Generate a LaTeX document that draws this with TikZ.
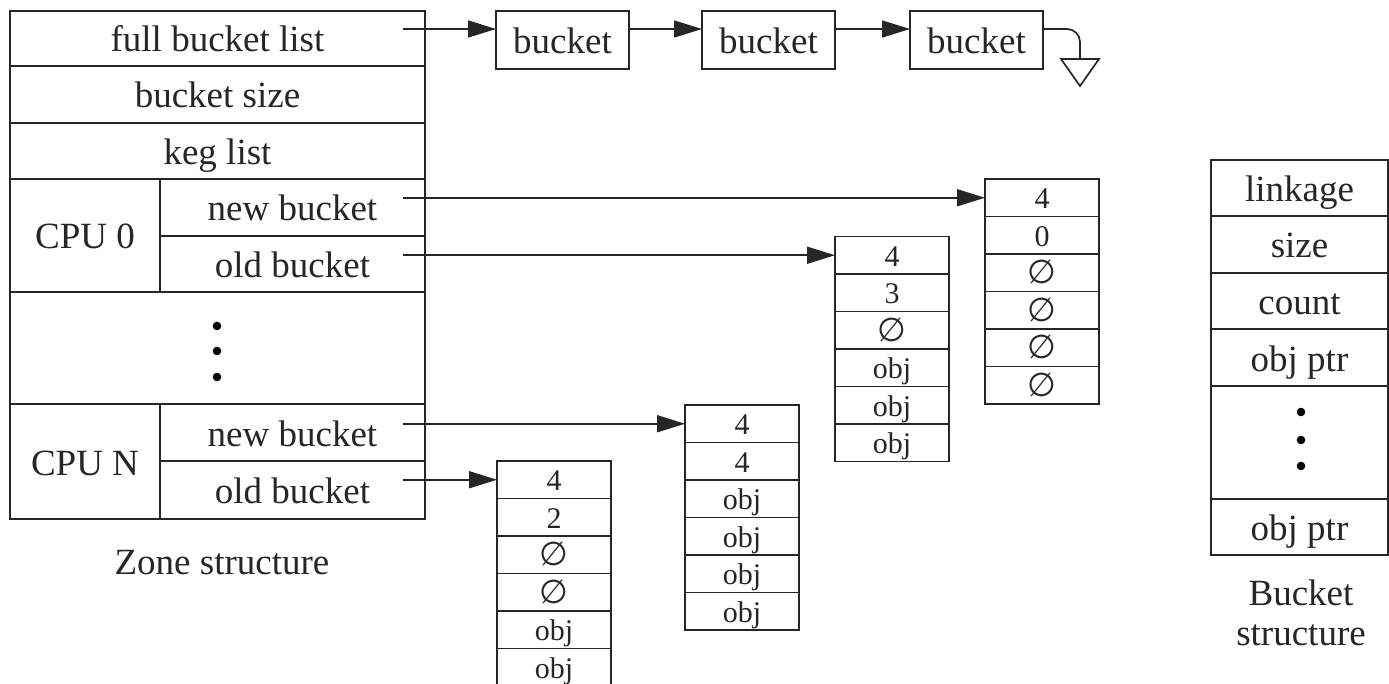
\documentclass[tikz,border=0pt]{standalone}
\usepackage{fontspec}
\setmainfont{Liberation Serif}
\newfontfamily\symf{DejaVu Sans}
\usetikzlibrary{arrows.meta}
\newcommand{\nul}{{\symf\fontsize{33}{34}\selectfont ∅}}
\begin{document}
\begin{tikzpicture}[x=1pt,y=-1pt,
  every node/.style={inner sep=0pt, outer sep=0pt},
  box/.style={draw=black!85, line width=1.7pt, font=\fontsize{37}{40}\selectfont, text=black!85, text height=27pt, text depth=0pt},
  cell/.style={draw=black!85, line width=1.7pt, minimum width=114pt, minimum height=37.5pt, font=\fontsize{30}{32}\selectfont, text=black!85, text height=22pt, text depth=0pt},
  lbl/.style={font=\fontsize{37}{40}\selectfont, text=black!85},
  arr/.style={draw=black!85, line width=1.7pt, -{Triangle[length=28pt,width=17pt]}},
  lin/.style={draw=black!85, line width=1.7pt},
  dot/.style={fill=black, draw=none}]
\useasboundingbox (0,0) rectangle (1389,684);
% Zone structure
\node[box, minimum width=415pt, minimum height=55pt] (zfull) at (217.5,38.5) {full bucket list};
\node[box, minimum width=415pt, minimum height=57pt] (zsize) at (217.5,94.5) {bucket size};
\node[box, minimum width=415pt, minimum height=56pt] (zkeg) at (217.5,151) {keg list};
\node[box, minimum width=150pt, minimum height=113pt] (cpu0) at (85,235.5) {CPU 0};
\node[box, minimum width=265pt, minimum height=57pt] (nb0) at (292.5,207.5) {new bucket};
\node[box, minimum width=265pt, minimum height=56pt] (ob0) at (292.5,264) {old bucket};
\node[box, minimum width=415pt, minimum height=112pt] (zdots) at (217.5,348) {};
\node[box, minimum width=150pt, minimum height=115pt] (cpuN) at (85,461.5) {CPU N};
\node[box, minimum width=265pt, minimum height=57pt] (nbN) at (292.5,432.5) {new bucket};
\node[box, minimum width=265pt, minimum height=58pt] (obN) at (292.5,490) {old bucket};
\foreach \yy in {326,351,377} \fill[dot] (217,\yy) circle (4.3pt);
\node[lbl] (zlab) at (222,563) {Zone structure};
% full bucket list chain
\node[box, minimum width=133pt, minimum height=58pt] (b1) at (562.5,40) {bucket};
\node[box, minimum width=133pt, minimum height=58pt] (b2) at (768.5,40) {bucket};
\node[box, minimum width=133pt, minimum height=58pt] (b3) at (976.5,40) {bucket};
\coordinate (s1) at (403,29);
\draw[arr] (s1) -- (s1 -| b1.west);
\draw[arr] (b1.east |- s1) -- (b2.west |- s1);
\draw[arr] (b2.east |- s1) -- (b3.west |- s1);
\coordinate (g) at (1080,59);
\draw[lin, rounded corners=13pt] (b3.east |- s1) -| (g);
\draw[lin] (1061,59) -- (1099,59) -- (1080,86) -- cycle;
% bucket arrays
\foreach \t [count=\i from 0] in {4,2,\nul,\nul,obj,obj}
  \node[cell] (A\i) at (554,{461+18.75+\i*37.5}) {\t};
\foreach \t [count=\i from 0] in {4,4,obj,obj,obj,obj}
  \node[cell] (B\i) at (742,{405+18.75+\i*37.5}) {\t};
\foreach \t [count=\i from 0] in {4,3,\nul,obj,obj,obj}
  \node[cell] (C\i) at (892,{236.5+18.75+\i*37.5}) {\t};
\foreach \t [count=\i from 0] in {4,0,\nul,\nul,\nul,\nul}
  \node[cell] (D\i) at (1042,{179+18.75+\i*37.5}) {\t};
\coordinate (s2) at (403,197.75);
\coordinate (s3) at (403,255.25);
\coordinate (s4) at (403,423.75);
\coordinate (s5) at (403,479.75);
\draw[arr] (s2) -- (D0.west);
\draw[arr] (s3) -- (C0.west);
\draw[arr] (s4) -- (B0.west);
\draw[arr] (s5) -- (A0.west);
% Bucket structure
\node[box, minimum width=177pt, minimum height=56pt] (r1) at (1299.5,188) {linkage};
\node[box, minimum width=177pt, minimum height=57pt] (r2) at (1299.5,244.5) {size};
\node[box, minimum width=177pt, minimum height=56pt] (r3) at (1299.5,301) {count};
\node[box, minimum width=177pt, minimum height=57pt] (r4) at (1299.5,357.5) {obj ptr};
\node[box, minimum width=177pt, minimum height=113pt] (r5) at (1299.5,442.5) {};
\node[box, minimum width=177pt, minimum height=56pt] (r6) at (1299.5,527) {obj ptr};
\foreach \yy in {412,440,466} \fill[dot] (1301,\yy) circle (4.3pt);
\node[lbl] (blab1) at (1301,593) {Bucket};
\node[lbl] (blab2) at (1301,635) {structure};
\end{tikzpicture}
\end{document}
